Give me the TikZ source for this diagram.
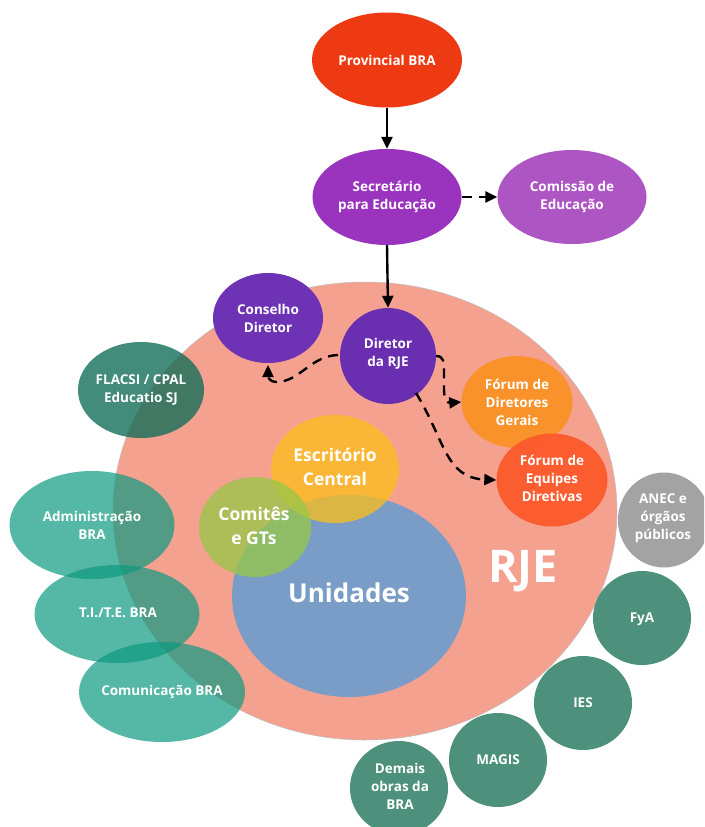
\documentclass[tikz,border=0pt]{standalone}
\usepackage{fontspec}
\setmainfont{Open Sans}
\usetikzlibrary{shapes.geometric,arrows.meta}
\definecolor{provc}{HTML}{EE3A12}
\definecolor{secc}{HTML}{9A34BE}
\definecolor{comc}{HTML}{AE55C4}
\definecolor{conc}{HTML}{6E33B5}
\definecolor{dirc}{HTML}{6A2FB1}
\definecolor{rjec}{HTML}{F5A18F}
\definecolor{fdgc}{HTML}{F9922B}
\definecolor{fedc}{HTML}{FC5A2C}
\definecolor{escc}{RGB}{252,191,26}
\definecolor{comitc}{RGB}{150,200,70}
\definecolor{unic}{HTML}{7A9DC7}
\definecolor{tealc}{RGB}{13,153,128}
\definecolor{flacc}{RGB}{20,110,90}
\definecolor{darkt}{HTML}{4D917D}
\definecolor{anecc}{HTML}{A3A3A3}
\begin{document}
\begin{tikzpicture}[x=1pt,y=-1pt,
  bub/.style 2 args={ellipse, minimum width=#1pt, minimum height=#2pt, inner sep=0pt, draw=none},
  lbl/.style={text=white, font=\bfseries\fontsize{13.5}{18}\selectfont, align=center, inner sep=0pt},
  mid/.style={text=white, font=\bfseries\fontsize{17.5}{23.5}\selectfont, align=center, inner sep=0pt},
  arr/.style={line width=2.4pt, -{Triangle[length=12pt,width=11pt]}},
  darr/.style={arr, dash pattern=on 10pt off 7pt}]
\useasboundingbox (0,0) rectangle (704,827);
\fill[white] (0,0) rectangle (704,827);
\clip (0,0) rectangle (704,827);

% big RJE circle
\node[bub={504}{458}, fill=rjec, draw=black!25, line width=0.5pt] (rje) at (365,511) {};
\node[text=white, font=\bfseries\fontsize{45}{50}\selectfont, inner sep=0pt] (rjeT) at (523,571) {RJE};

% top chain
\node[bub={150}{95}, fill=provc] (prov) at (387,60) {};
\node[lbl] (provT) at (prov) {Provincial BRA};
\node[bub={149}{96}, fill=secc] (sec) at (387,197) {};
\node[lbl] (secT) at (sec) {Secretário\\para Educação};
\node[bub={149}{94}, fill=comc] (com) at (572,197) {};
\node[lbl] (comT) at (com) {Comissão de\\Educação};

% inside RJE
\node[bub={110}{90}, fill=conc] (con) at (268,318) {};
\node[lbl] (conT) at (con) {Conselho\\Diretor};
\node[bub={96}{96}, fill=dirc] (dir) at (388,356) {};
\node[lbl] (dirT) at (388,354) {Diretor\\da RJE};
\node[bub={111}{92}, fill=fdgc] (fdg) at (517,402) {};
\node[lbl] (fdgT) at (fdg) {Fórum de\\Diretores\\Gerais};
\node[bub={111}{93}, fill=fedc, fill opacity=0.95] (fed) at (552,480) {};
\node[lbl] (fedT) at (552,478) {Fórum de\\Equipes\\Diretivas};

\node[bub={234}{202}, fill=unic] (uni) at (349,596) {};
\node[bub={128}{108}, fill=escc, fill opacity=0.75] (esc) at (335,469) {};
\node[bub={112}{100}, fill=comitc, fill opacity=0.75] (comit) at (255,527) {};
\node[text=white, font=\bfseries\fontsize{26}{30}\selectfont, inner sep=0pt] (uniT) at (349,593) {Unidades};
\node[mid] (escT) at (335,467) {Escritório\\Central};
\node[mid] (comitT) at (254,526) {Comitês\\e GTs};

% left teal ellipses
\node[bub={126}{96}, fill=flacc, fill opacity=0.8] (fla) at (141,390) {};
\node[lbl] (flaT) at (fla) {FLACSI / CPAL\\Educatio SJ};
\node[bub={165}{108}, fill=tealc, fill opacity=0.7] (adm) at (92,525) {};
\node[bub={165}{98}, fill=tealc, fill opacity=0.7] (ti) at (117,614) {};
\node[bub={166}{100}, fill=tealc, fill opacity=0.7] (comu) at (162,692) {};
\node[lbl] (admT) at (adm) {Administração\\BRA};
\node[lbl] (tiT) at (118,613) {T.I./T.E. BRA};
\node[lbl] (comuT) at (comu) {Comunicação BRA};

% right circles
\node[bub={92}{95}, fill=anecc] (anec) at (664,520) {};
\node[lbl] (anecT) at (663,518) {ANEC e\\órgãos\\públicos};
\node[bub={98}{94}, fill=darkt] (fya) at (642,618) {};
\node[lbl] (fyaT) at (642,619) {FyA};
\node[bub={98}{94}, fill=darkt] (ies) at (583,703) {};
\node[lbl] (iesT) at (ies) {IES};
\node[bub={98}{94}, fill=darkt] (mag) at (498,760) {};
\node[lbl] (magT) at (mag) {MAGIS};
\node[bub={98}{94}, fill=darkt] (dem) at (399,788) {};
\node[lbl] (demT) at (400,786) {Demais\\obras da\\BRA};

% connectors
\draw[arr] (prov.south) -- (sec.north);
\draw[darr] (sec.east) -- (com.west);
\draw[arr] (sec.south) -- (dir.north);

\coordinate (c1a) at (338,355);
\coordinate (c1b) at (276,382);
\coordinate (c1e) at (268,365);
\draw[darr] (c1a) .. controls (310,356) and (300,382) .. (c1b) .. controls (270,382) and (268,377) .. (c1e);

\coordinate (c2a) at (436,356);
\coordinate (c2b) at (444,390);
\coordinate (c2e) at (fdg.west);
\draw[darr] (c2a) .. controls (444,356) and (444,362) .. (444,372) -- (c2b) .. controls (444,400) and (448,403) .. (c2e);

\coordinate (c3a) at (416,393);
\coordinate (c3e) at (fed.west);
\draw[darr] (c3a) .. controls (445,440) and (445,478) .. (c3e);
\end{tikzpicture}
\end{document}
